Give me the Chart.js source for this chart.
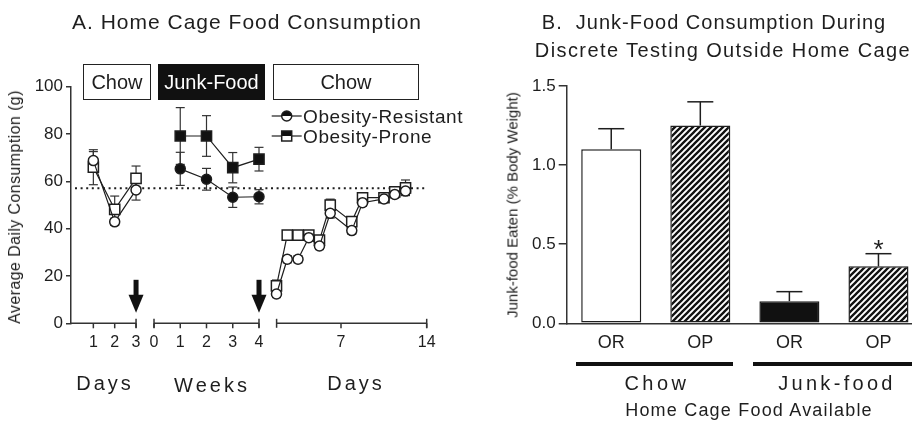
<!DOCTYPE html>
<html>
<head>
<meta charset="utf-8">
<title>Home cage and junk-food consumption</title>
<script src="https://cdn.jsdelivr.net/npm/chart.js@4.4.1/dist/chart.umd.min.js"></script>
<style>
  html, body { margin: 0; padding: 0; overflow: hidden; background: #fff; }
  body { position: relative; width: 912px; height: 424px;
         font-family: "Liberation Sans", Arial, sans-serif; color: #1e1e1e; }
  canvas { position: absolute; top: 0; }
  .t { position: absolute; white-space: pre; line-height: 1; transform: translate(-50%, -50%); }
  .l { position: absolute; white-space: pre; line-height: 1; transform: translate(0, -50%); }
  .v { position: absolute; white-space: pre; line-height: 1; transform: translate(-50%, -50%) rotate(-90deg); }
  .box { position: absolute; box-sizing: border-box; border: 1.5px solid #222; top: 64px; height: 36px;
         display: flex; align-items: center; justify-content: center; font-size: 20px; line-height: 1; }
  .bar { position: absolute; background: #111; height: 4px; top: 362px; }
</style>
</head>
<body>
<canvas id="chartA" width="460" height="424" style="left:0"></canvas>
<canvas id="chartB" width="480" height="424" style="left:460px"></canvas>

<div class="t" style="left:247px;top:21px;font-size:21px;letter-spacing:1px">A. Home Cage Food Consumption</div>
<div class="t" style="left:714px;top:22px;font-size:20px;letter-spacing:1px">B.  Junk-Food Consumption During</div>
<div class="t" style="left:723px;top:50px;font-size:20px;letter-spacing:1.4px">Discrete Testing Outside Home Cage</div>

<div class="box" style="left:83px;width:68px">Chow</div>
<div class="box" style="left:158px;width:107px;background:#111;color:#fff;border-color:#111">Junk-Food</div>
<div class="box" style="left:273px;width:146px">Chow</div>

<div class="l" style="left:303px;top:116px;font-size:19px;letter-spacing:0.6px">Obesity-Resistant</div>
<div class="l" style="left:303px;top:136px;font-size:19px;letter-spacing:0.6px">Obesity-Prone</div>

<div class="v" style="left:15px;top:207px;font-size:16px;letter-spacing:0.4px">Average Daily Consumption (g)</div>
<div class="v" style="left:512px;top:205px;font-size:15px">Junk-food Eaten (% Body Weight)</div>

<div class="t" style="left:105px;top:383px;font-size:20px;letter-spacing:3px">Days</div>
<div class="t" style="left:212px;top:385px;font-size:20px;letter-spacing:3px">Weeks</div>
<div class="t" style="left:356px;top:383px;font-size:20px;letter-spacing:3px">Days</div>

<div class="bar" style="left:576px;width:157px"></div>
<div class="bar" style="left:753px;width:160px"></div>
<div class="t" style="left:657px;top:383px;font-size:20px;letter-spacing:3.5px">Chow</div>
<div class="t" style="left:837px;top:383px;font-size:20px;letter-spacing:3.3px">Junk-food</div>
<div class="t" style="left:749px;top:410px;font-size:18px;letter-spacing:1.2px">Home Cage Food Available</div>

<script>
// ---- Panel A: home cage intake (g/day), mean and SEM ----
// Chow baseline, days 1-3
const DAYS_PRE     = [1, 2, 3];
const OR_PRE       = [68.8, 42.9, 56.4];
const OR_PRE_SEM   = [3.8, 1.5, 4.3];
const OP_PRE       = [66.0, 48.2, 61.3];
const OP_PRE_SEM   = [7.4, 5.6, 5.2];

// Junk-food access, weeks 1-4
const WEEKS_JUNK   = [1, 2, 3, 4];
const OR_JUNK      = [65.3, 60.9, 53.3, 53.5];
const OR_JUNK_SEM  = [7.0, 4.6, 4.3, 3.0];
const OP_JUNK      = [79.2, 79.2, 65.8, 69.4];
const OP_JUNK_SEM  = [12.0, 8.6, 6.4, 5.0];

// Return to chow, days
const DAYS_POST    = [1.73, 2.61, 3.49, 4.37, 5.24, 6.12, 7.88, 8.76, 10.51, 11.39, 12.27];
const OR_POST      = [12.4, 27.1, 27.1, 36.2, 32.7, 46.5, 39.2, 51.0, 52.6, 54.5, 55.9];
const OR_POST_SEM  = [1.5, 1.5, 1.5, 1.0, 1.5, 2.0, 1.5, 1.5, 1.0, 1.5, 1.5];
const OP_POST      = [15.8, 37.3, 37.3, 37.3, 35.2, 50.0, 43.0, 53.1, 53.1, 55.6, 57.3];
const OP_POST_SEM  = [2.5, 1.0, 1.0, 1.0, 1.5, 2.5, 2.0, 2.0, 1.0, 1.5, 3.3];

const BASELINE_INTAKE = 57.1;          // dotted reference line
const TICKS_PRE  = [1, 2, 3];
const TICKS_JUNK = [0, 1, 2, 3, 4];
const TICKS_POST = [7, 14];
const Y_TICKS_A  = [0, 20, 40, 60, 80, 100];
const DIET_SWITCHES = [['pre', 3], ['junk', 4]];   // arrows where the diet changes

// ---- Panel B: junk food eaten in test (% body weight) ----
const GROUPS_B       = ['OR', 'OP', 'OR', 'OP'];
const JUNK_EATEN     = [1.10, 1.25, 0.14, 0.36];
const JUNK_EATEN_SEM = [0.13, 0.15, 0.06, 0.08];
const SIGNIFICANCE   = ['', '', '', '*'];
const Y_TICKS_B      = [0, 0.5, 1.0, 1.5];

const INK = '#1e1e1e';
const AXIS = '#333';
const FONT = '"Liberation Sans", Arial, sans-serif';
Chart.defaults.font.family = FONT;
Chart.defaults.color = INK;

// Broken x axis: three segments, each with its own unit, laid onto one linear scale.
const SEGMENTS = {
  pre:  { origin: 1.0,   unit: 21.35,  lo: 0,    hi: 3,  ticks: TICKS_PRE,  fromAxis: true },
  junk: { origin: 83.0,  unit: 26.25,  lo: 0,    hi: 4,  ticks: TICKS_JUNK },
  post: { origin: 184.3, unit: 12.243, lo: 1.74, hi: 14, ticks: TICKS_POST }
};
const AXIS_SPAN = SEGMENTS.post.origin + SEGMENTS.post.unit * SEGMENTS.post.hi;
const toAxis = (seg, v) => SEGMENTS[seg].origin + SEGMENTS[seg].unit * v;
const points = (seg, xs, ys) => xs.map((x, i) => ({ x: toAxis(seg, x), y: ys[i] }));

function series(label, seg, xs, ys, sem, shape, fill) {
  return {
    label, data: points(seg, xs, ys), sem,
    showLine: true, borderColor: INK, borderWidth: 1.2,
    pointStyle: shape, pointRadius: shape === 'circle' ? 5 : 7.2,
    pointBackgroundColor: fill, pointBorderColor: INK, pointBorderWidth: 1.5,
    pointHoverRadius: shape === 'circle' ? 5 : 7.2
  };
}

function line(ctx, x1, y1, x2, y2) { ctx.beginPath(); ctx.moveTo(x1, y1); ctx.lineTo(x2, y2); ctx.stroke(); }

const panelADecor = {
  id: 'panelADecor',
  beforeDatasetsDraw(chart) {
    const { ctx, chartArea: ca, scales: { y } } = chart;
    ctx.save();
    // dotted baseline
    ctx.strokeStyle = INK; ctx.lineWidth = 2; ctx.setLineDash([2, 3.6]);
    const yb = y.getPixelForValue(BASELINE_INTAKE);
    line(ctx, ca.left + 4, yb, ca.right, yb);
    ctx.setLineDash([]);
    // SEM bars
    ctx.strokeStyle = AXIS; ctx.lineWidth = 1.2;
    chart.data.datasets.forEach((ds, i) => {
      chart.getDatasetMeta(i).data.forEach((pt, j) => {
        const v = ds.data[j].y, e = ds.sem[j];
        const t = y.getPixelForValue(v + e), b = y.getPixelForValue(v - e);
        line(ctx, pt.x, t, pt.x, b);
        line(ctx, pt.x - 4.5, t, pt.x + 4.5, t);
        line(ctx, pt.x - 4.5, b, pt.x + 4.5, b);
      });
    });
    ctx.restore();
  },
  afterDraw(chart) {
    const { ctx, chartArea: ca, scales: { x } } = chart;
    const y0 = ca.bottom;
    ctx.save();
    ctx.strokeStyle = AXIS; ctx.lineWidth = 1.5;
    // axis segments with their ticks
    Object.entries(SEGMENTS).forEach(([k, s]) => {
      const a = s.fromAxis ? ca.left : x.getPixelForValue(toAxis(k, s.lo));
      const b = x.getPixelForValue(toAxis(k, s.hi));
      line(ctx, a, y0, b, y0);
      if (!s.fromAxis) line(ctx, a, y0 - 4.5, a, y0 + 4.5);
      line(ctx, b, y0 - 4.5, b, y0 + 4.5);
      s.ticks.forEach(v => {
        const p = x.getPixelForValue(toAxis(k, v));
        line(ctx, p, y0, p, y0 + 5);
      });
    });
    // diet-switch arrows
    ctx.fillStyle = '#111';
    DIET_SWITCHES.forEach(([k, v]) => {
      const p = x.getPixelForValue(toAxis(k, v));
      ctx.fillRect(p - 2.5, y0 - 43.5, 5, 16);
      ctx.beginPath();
      ctx.moveTo(p - 7.5, y0 - 28.5); ctx.lineTo(p + 7.5, y0 - 28.5); ctx.lineTo(p, y0 - 10.5);
      ctx.closePath(); ctx.fill();
    });
    // legend symbols
    [[116, 'circle'], [136, 'rect']].forEach(([ly, shape]) => {
      const cx = 286.7;
      ctx.strokeStyle = INK; ctx.lineWidth = 1.2;
      line(ctx, 271.7, ly, 301.7, ly);
      ctx.lineWidth = 1.5; ctx.fillStyle = '#fff';
      if (shape === 'circle') {
        ctx.beginPath(); ctx.arc(cx, ly, 5, 0, Math.PI * 2); ctx.fill();
        ctx.fillStyle = '#111';
        ctx.beginPath(); ctx.arc(cx, ly, 5, Math.PI, Math.PI * 2); ctx.closePath(); ctx.fill();
        ctx.beginPath(); ctx.arc(cx, ly, 5, 0, Math.PI * 2); ctx.stroke();
      } else {
        ctx.fillRect(cx - 5, ly - 5, 10, 10);
        ctx.fillStyle = '#111'; ctx.fillRect(cx - 5, ly - 5, 10, 5);
        ctx.strokeRect(cx - 5, ly - 5, 10, 10);
      }
    });
    ctx.restore();
  }
};

new Chart(document.getElementById('chartA'), {
  type: 'scatter',
  data: {
    datasets: [
      series('Obesity-Resistant', 'pre',  DAYS_PRE,   OR_PRE,   OR_PRE_SEM,  'circle', '#fff'),
      series('Obesity-Resistant', 'junk', WEEKS_JUNK, OR_JUNK,  OR_JUNK_SEM, 'circle', '#111'),
      series('Obesity-Resistant', 'post', DAYS_POST,  OR_POST,  OR_POST_SEM, 'circle', '#fff'),
      series('Obesity-Prone',     'pre',  DAYS_PRE,   OP_PRE,   OP_PRE_SEM,  'rect',   '#fff'),
      series('Obesity-Prone',     'junk', WEEKS_JUNK, OP_JUNK,  OP_JUNK_SEM, 'rect',   '#111'),
      series('Obesity-Prone',     'post', DAYS_POST,  OP_POST,  OP_POST_SEM, 'rect',   '#fff')
    ]
  },
  options: {
    responsive: false, animation: false, devicePixelRatio: 1,
    layout: { padding: { top: 86.8, right: 460 - 71 - AXIS_SPAN, bottom: 0, left: 0 } },
    plugins: { legend: { display: false }, tooltip: { enabled: false } },
    scales: {
      x: {
        type: 'linear', min: 0, max: AXIS_SPAN,
        afterBuildTicks(scale) {
          scale.ticks = Object.entries(SEGMENTS).flatMap(([k, s]) =>
            s.ticks.map(v => ({ value: toAxis(k, v), tv: v })));
        },
        afterFit(scale) { scale.height = 100.7; },
        grid: { display: false, drawTicks: false },
        border: { display: false },
        ticks: {
          autoSkip: false, maxRotation: 0, minRotation: 0, padding: 9.6,
          font: { size: 16 }, color: INK,
          callback: (value, i, ticks) => String(ticks[i].tv)
        }
      },
      y: {
        min: 0, max: 100,
        afterBuildTicks(scale) { scale.ticks = Y_TICKS_A.map(v => ({ value: v })); },
        afterFit(scale) { scale.width = 71; },
        grid: { drawOnChartArea: false, drawTicks: true, tickLength: 5, color: AXIS, lineWidth: 1.5 },
        border: { display: true, color: AXIS, width: 1.5 },
        ticks: { padding: 3, font: { size: 17 }, color: INK }
      }
    }
  },
  plugins: [panelADecor]
});

// ---- Panel B ----
function hatch() {
  const s = 6, c = document.createElement('canvas');
  c.width = c.height = s;
  const g = c.getContext('2d');
  g.fillStyle = '#fff'; g.fillRect(0, 0, s, s);
  g.strokeStyle = '#111'; g.lineWidth = 2.3;
  g.beginPath();
  g.moveTo(-1, s + 1); g.lineTo(s + 1, -1);
  g.moveTo(-1, 1); g.lineTo(1, -1);
  g.moveTo(s - 1, s + 1); g.lineTo(s + 1, s - 1);
  g.stroke();
  return g.createPattern(c, 'repeat');
}
const HATCH = hatch();

const panelBDecor = {
  id: 'panelBDecor',
  afterDatasetsDraw(chart) {
    const { ctx, scales: { y } } = chart;
    const ds = chart.data.datasets[0];
    ctx.save();
    ctx.strokeStyle = INK; ctx.lineWidth = 1.5;
    chart.getDatasetMeta(0).data.forEach((bar, i) => {
      const v = ds.data[i], e = ds.sem[i];
      const top = y.getPixelForValue(v), cap = y.getPixelForValue(v + e);
      line(ctx, bar.x, top, bar.x, cap);
      line(ctx, bar.x - 13, cap, bar.x + 13, cap);
      if (SIGNIFICANCE[i]) {
        ctx.fillStyle = INK; ctx.font = '26px ' + FONT;
        ctx.textAlign = 'center'; ctx.textBaseline = 'alphabetic';
        ctx.fillText(SIGNIFICANCE[i], bar.x, cap + 4);
      }
    });
    ctx.restore();
  }
};

new Chart(document.getElementById('chartB'), {
  type: 'bar',
  data: {
    labels: GROUPS_B,
    datasets: [{
      data: JUNK_EATEN, sem: JUNK_EATEN_SEM,
      backgroundColor: ['#fff', HATCH, '#111', HATCH],
      borderColor: INK, borderWidth: 1.5, borderSkipped: false,
      barPercentage: 0.674, categoryPercentage: 1
    }]
  },
  options: {
    responsive: false, animation: false, devicePixelRatio: 1,
    layout: { padding: { top: 86, right: 17, bottom: 0, left: 0 } },
    plugins: { legend: { display: false }, tooltip: { enabled: false } },
    scales: {
      x: {
        afterFit(scale) { scale.height = 100.7; },
        grid: { display: false, drawTicks: false },
        border: { display: true, color: AXIS, width: 1.5 },
        ticks: { padding: 8.9, font: { size: 18 }, color: INK, maxRotation: 0 }
      },
      y: {
        min: 0, max: 1.5,
        afterBuildTicks(scale) { scale.ticks = Y_TICKS_B.map(v => ({ value: v })); },
        afterFit(scale) { scale.width = 106.7; },
        grid: { drawOnChartArea: false, drawTicks: true, tickLength: 8, color: AXIS, lineWidth: 1.5 },
        border: { display: true, color: AXIS, width: 1.5 },
        ticks: { padding: 3, font: { size: 17 }, color: INK, callback: v => v.toFixed(1) }
      }
    }
  },
  plugins: [panelBDecor]
});
</script>
</body>
</html>
